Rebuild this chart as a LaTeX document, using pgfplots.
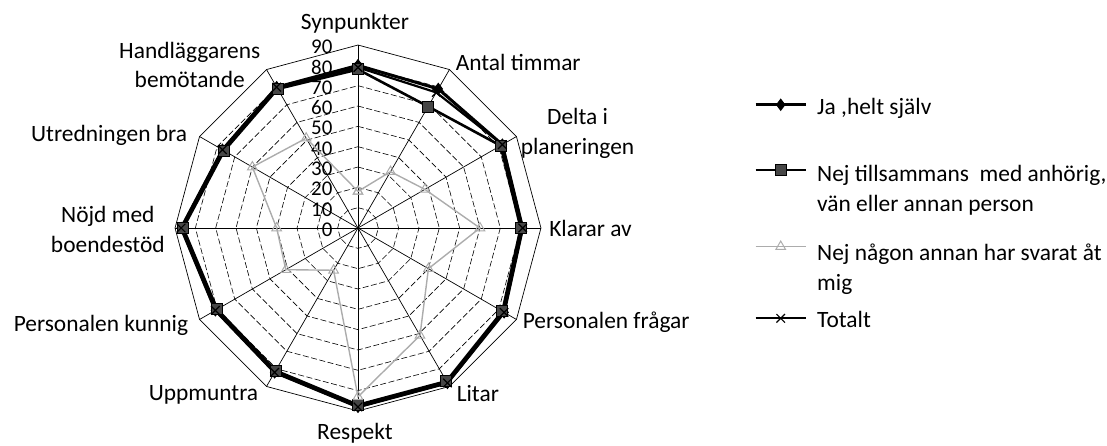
\documentclass[border=0pt]{standalone}
\usepackage{fontspec}
\setmainfont{Carlito}
\usepackage{pgfplots}
\pgfplotsset{compat=1.18}
\tikzset{lab/.style={font=\fontsize{23.5}{30}\selectfont, inner sep=1bp}}
\pgfplotsset{
  legA/.style={legend image code/.code={\path[draw opacity=0, fill opacity=0] (0bp,20bp) -- (0bp,-29bp); \draw[mark repeat=2,mark phase=2,##1] plot coordinates {(0bp,0bp) (25bp,0bp) (50bp,0bp)};}},
  legB/.style={legend image code/.code={\path[draw opacity=0, fill opacity=0] (0bp,42.5bp) -- (0bp,-39bp); \draw[mark repeat=2,mark phase=2,##1] plot coordinates {(0bp,9bp) (25bp,9bp) (50bp,9bp)};}},
  legC/.style={legend image code/.code={\path[draw opacity=0, fill opacity=0] (0bp,38.5bp) -- (0bp,-31bp); \draw[mark repeat=2,mark phase=2,##1] plot coordinates {(0bp,12bp) (25bp,12bp) (50bp,12bp)};}},
  legD/.style={legend image code/.code={\path[draw opacity=0, fill opacity=0] (0bp,27bp) -- (0bp,-20bp); \draw[mark repeat=2,mark phase=2,##1] plot coordinates {(0bp,0bp) (25bp,0bp) (50bp,0bp)};}},
}
\begin{document}
\begin{tikzpicture}
\path[use as bounding box] (-358bp,-218bp) rectangle (749bp,228bp);
\begin{axis}[
  at={(0,0)}, anchor=origin,
  x=2.033bp, y=2.033bp,
  xmin=-90, xmax=90, ymin=-90, ymax=90,
  hide axis, clip=false,
  data cs=polar,
  legend style={at={(axis cs:194.8,71.3)}, anchor=north west, draw=none, fill=none,
    font=\fontsize{23.5}{30}\selectfont, row sep=0bp, column sep=8bp, inner sep=0pt,
    cells={anchor=west, inner sep=0pt}},
  gridl/.style={black, line width=0.6bp, dash pattern=on 6bp off 2.5bp, forget plot},
]
% web
\pgfplotsinvokeforeach{10,20,30,40,50,60,70,80}{
\addplot[gridl] coordinates {(90,#1) (60,#1) (30,#1) (0,#1) (-30,#1) (-60,#1) (-90,#1) (-120,#1) (-150,#1) (-180,#1) (-210,#1) (-240,#1) (-270,#1)};
}
\addplot[black, line width=0.7bp, forget plot] coordinates {(90,90) (60,90) (30,90) (0,90) (-30,90) (-60,90) (-90,90) (-120,90) (-150,90) (-180,90) (-210,90) (-240,90) (-270,90)};
\pgfplotsinvokeforeach{90,60,30,0,-30,-60,-90,-120,-150,-180,-210,-240}{
\addplot[black, line width=0.7bp, forget plot] coordinates {(#1,0) (#1,90)};
}
% scale labels
\pgfplotsinvokeforeach{0,10,20,30,40,50,60,70,80,90}{
\node[anchor=east, inner sep=0pt, font=\fontsize{21}{21}\selectfont] at (axis cs:-12.5,#1-0.8) {#1};
}
% series (angle, value): Synpunkter at top, clockwise
\addplot[black, line width=3bp, mark=diamond*, mark size=5.5bp, mark options={solid, fill=black, line width=1bp}, legA] coordinates {
(90,80) (60,79) (30,82) (0,81) (-30,83) (-60,88) (-90,88) (-120,82) (-150,81) (-180,87) (-210,77) (-240,80) (-270,80)};
\addlegendentry{\begin{tabular}{@{}l@{}}Ja ,helt själv\end{tabular}}
\addplot[black, line width=2.6bp, mark=square*, mark size=5.5bp, mark options={solid, fill=gray!55!black, draw=black, line width=1bp}, legB] coordinates {
(90,78) (60,69) (30,81) (0,80) (-30,82) (-60,87) (-90,87) (-120,81) (-150,80) (-180,86) (-210,76) (-240,79) (-270,78)};
\addlegendentry{\begin{tabular}{@{}l@{}}Nej tillsammans\ \ med anhörig,\\vän eller annan person\end{tabular}}
\addplot[gray!65, line width=1.4bp, mark=triangle, mark size=5.5bp, mark options={solid, gray!65, line width=1bp}, legC] coordinates {
(90,18) (60,32) (30,38) (0,60) (-30,40) (-60,61) (-90,83) (-120,24) (-150,41) (-180,40) (-210,60) (-240,51) (-270,18)};
\addlegendentry{\begin{tabular}{@{}l@{}}Nej någon annan har svarat åt\\mig\end{tabular}}
\addplot[black, line width=2.2bp, mark=x, mark size=6bp, mark options={solid, line width=1.2bp}, legD] coordinates {
(90,79) (60,77) (30,82) (0,81) (-30,83) (-60,88) (-90,88) (-120,82) (-150,81) (-180,87) (-210,77) (-240,80) (-270,79)};
\addlegendentry{\begin{tabular}{@{}l@{}}Totalt\end{tabular}}
% category labels
\node[lab, anchor=center] at (axis cs:-1.5,100.5) {Synpunkter};
\node[lab, anchor=west] at (axis cs:47.5,81.2) {Antal timmar};
\node[lab, anchor=west, align=center] at (axis cs:79.5,46.7) {Delta i\\planeringen};
\node[lab, anchor=west] at (axis cs:93.5,0) {Klarar av};
\node[lab, anchor=west] at (axis cs:80.5,-46.2) {Personalen frågar};
\node[lab, anchor=west] at (axis cs:48,-81.2) {Litar};
\node[lab, anchor=center] at (axis cs:-1.5,-100.8) {Respekt};
\node[lab, anchor=east] at (axis cs:-48.5,-82.1) {Uppmuntra};
\node[lab, anchor=east] at (axis cs:-83,-47.7) {Personalen kunnig};
\node[lab, anchor=east, align=center] at (axis cs:-94.5,-0.5) {Nöjd med\\boendestöd};
\node[lab, anchor=east] at (axis cs:-83.5,45.7) {Utredningen bra};
\node[lab, anchor=east, align=center] at (axis cs:-47.5,80.2) {Handläggarens\\bemötande};
\end{axis}
\end{tikzpicture}
\end{document}
